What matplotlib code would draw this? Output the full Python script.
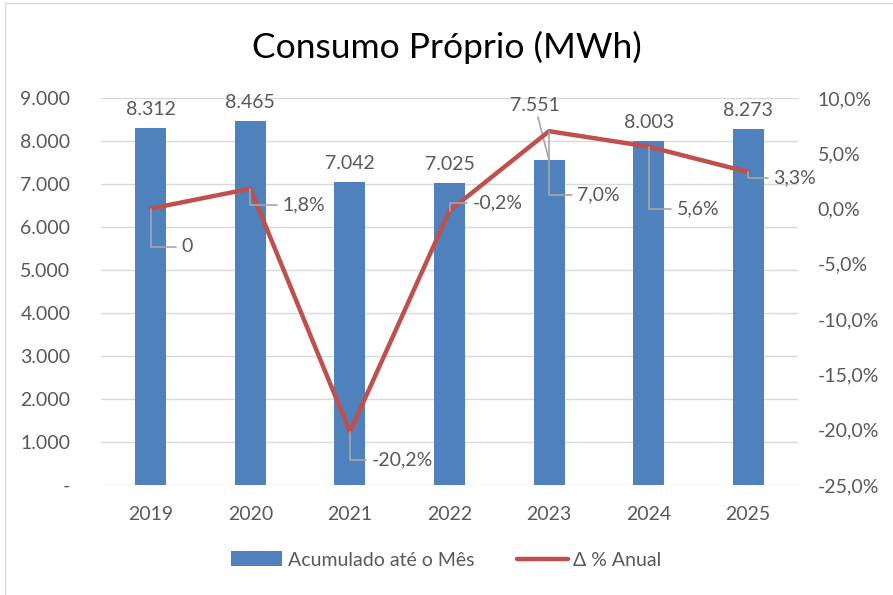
import matplotlib.pyplot as plt
from matplotlib.patches import Rectangle
from matplotlib.ticker import FuncFormatter

plt.rcParams['font.family'] = ['Lato', 'DejaVu Sans']

anos = ['2019', '2020', '2021', '2022', '2023', '2024', '2025']
acumulado = [8312, 8465, 7042, 7025, 7551, 8003, 8273]
var_anual = [0.0, 1.8, -20.2, -0.2, 7.0, 5.6, 3.3]
var_labels = ['0', '1,8%', '-20,2%', '-0,2%', '7,0%', '5,6%', '3,3%']

# label offsets in pixels (dx, dy) relative to the line points / bar tops
label_off = [(31, -38), (32, -16), (22, -28), (23, 8), (28, -64), (28, -62), (25, -6)]
bar_off = [(0, 10), (0, 10), (0, 10), (0, 10), (-14, 46), (0, 10), (0, 10)]

txt = '#595959'
bar_c = '#4F81BD'
line_c = '#C0504D'
fs = 14

fig = plt.figure(figsize=(8.93, 5.95), dpi=100)
fig.patches.append(Rectangle((5/893, -0.1), 1.2, 1 - 3/595 + 0.1, transform=fig.transFigure,
                             fill=False, edgecolor='#D9D9D9', lw=1))

ax = fig.add_axes([101/893, 1 - 485/595, 697/893, 387/595])
ax2 = ax.twinx()

x = list(range(len(anos)))
ax.bar(x, acumulado, width=0.31, color=bar_c, zorder=2, label='Acumulado até o Mês')
for i, (v, off) in enumerate(zip(acumulado, bar_off)):
    arrow = None
    if off[1] > 20:
        arrow = dict(arrowstyle='-', color='#A6A6A6', lw=1.2, shrinkA=0, shrinkB=0)
    ax.annotate(f'{v:,}'.replace(',', '.'), (i, v), xytext=off, textcoords='offset pixels',
                ha='center', va='bottom', fontsize=fs, color=txt, arrowprops=arrow)

ax.set_ylim(0, 9000)
ax.set_yticks(range(0, 9001, 1000))
ax.yaxis.set_major_formatter(FuncFormatter(lambda v, p: '-' if v == 0 else f'{int(v):,}'.replace(',', '.')))
ax.set_xlim(-0.5, len(anos) - 0.5)
ax.set_xticks(x)
ax.set_xticklabels(anos)
ax.grid(axis='y', color='#D9D9D9', lw=1, zorder=0)
ax.set_axisbelow(True)

ax2.plot(x, var_anual, color=line_c, lw=3.2, solid_capstyle='round', zorder=3, label='Δ % Anual')
ax2.set_ylim(-25, 10)
ax2.set_yticks(range(-25, 11, 5))
ax2.yaxis.set_major_formatter(FuncFormatter(lambda v, p: f'{v:.1f}%'.replace('.', ',')))

for i, (v, lab, off) in enumerate(zip(var_anual, var_labels, label_off)):
    ax2.annotate(lab, (i, v), xytext=off, textcoords='offset pixels', ha='left', va='center',
                 fontsize=fs, color=txt,
                 arrowprops=dict(arrowstyle='-', color='#A6A6A6', lw=1.2, shrinkA=2, shrinkB=0,
                                 connectionstyle='angle,angleA=0,angleB=90,rad=0'))

for a in (ax, ax2):
    for s in a.spines.values():
        s.set_visible(False)
    a.tick_params(length=0, labelsize=fs, colors=txt)
ax.tick_params(axis='x', pad=15)
ax.tick_params(axis='y', pad=22)
ax2.tick_params(axis='y', pad=14)

fig.text(0.5, 1 - 47/595, 'Consumo Próprio (MWh)', ha='center', va='center', fontsize=25.5, color='#000000')

h1, l1 = ax.get_legend_handles_labels()
h2, l2 = ax2.get_legend_handles_labels()
fig.legend(h1 + h2, l1 + l2, loc='center', bbox_to_anchor=(0.5, 1 - 560/595), ncol=2, frameon=False,
           fontsize=fs, labelcolor=txt, handlelength=2.6, handleheight=0.8, columnspacing=2.2, handletextpad=0.3)

fig.savefig('out.png', dpi=100)
